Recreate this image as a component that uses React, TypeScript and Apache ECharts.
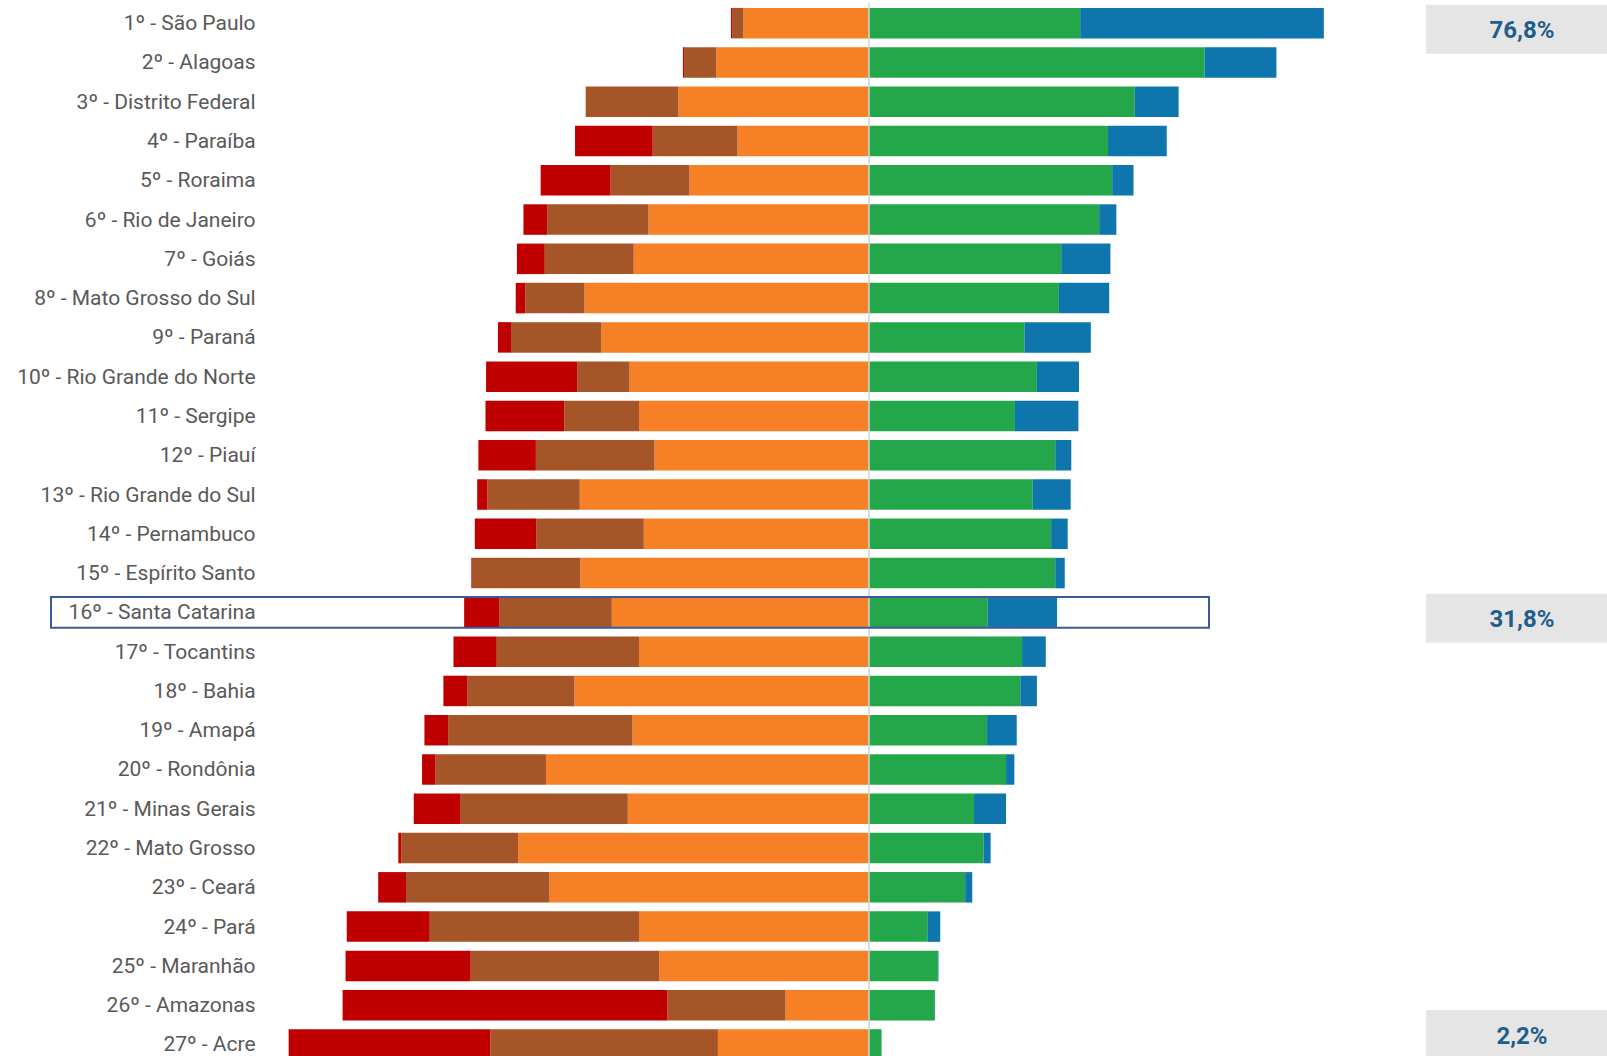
import React, { useEffect, useRef } from "react";
import * as echarts from "echarts";

const states = [
  "1º - São Paulo",
  "2º - Alagoas",
  "3º - Distrito Federal",
  "4º - Paraíba",
  "5º - Roraima",
  "6º - Rio de Janeiro",
  "7º - Goiás",
  "8º - Mato Grosso do Sul",
  "9º - Paraná",
  "10º - Rio Grande do Norte",
  "11º - Sergipe",
  "12º - Piauí",
  "13º - Rio Grande do Sul",
  "14º - Pernambuco",
  "15º - Espírito Santo",
  "16º - Santa Catarina",
  "17º - Tocantins",
  "18º - Bahia",
  "19º - Amapá",
  "20º - Rondônia",
  "21º - Minas Gerais",
  "22º - Mato Grosso",
  "23º - Ceará",
  "24º - Pará",
  "25º - Maranhão",
  "26º - Amazonas",
  "27º - Acre",
];

// left side (drawn as negative), from outermost to the centre
const red = [0.2, 0.2, 0, 13.1, 11.8, 4.0, 4.7, 1.6, 2.2, 15.4, 13.3, 9.7, 1.7, 10.4, 0.1, 5.9, 7.3, 4.0, 4.0, 2.2, 7.8, 0.5, 4.7, 14.0, 21.1, 54.8, 34.0];
const brown = [1.9, 5.4, 15.6, 14.3, 13.3, 17.1, 15.0, 10.0, 15.2, 8.8, 12.6, 20.0, 15.6, 18.1, 18.3, 19.0, 24.0, 18.1, 31.1, 18.7, 28.3, 19.7, 24.2, 35.3, 31.8, 19.9, 38.4];
const orange = [21.1, 25.7, 32.1, 22.1, 30.2, 37.1, 39.6, 47.9, 45.1, 40.3, 38.7, 36.1, 48.7, 37.9, 48.6, 43.3, 38.7, 49.6, 39.8, 54.4, 40.6, 59.1, 53.8, 38.7, 35.3, 14.0, 25.4];
// right side, from the centre outwards
const green = [35.7, 56.7, 44.9, 40.4, 41.1, 38.9, 32.5, 32.1, 26.3, 28.4, 24.7, 31.5, 27.7, 30.8, 31.5, 20.1, 25.9, 25.6, 20.0, 23.2, 17.8, 19.4, 16.3, 10.0, 11.7, 11.2, 2.2];
const blue = [41.1, 12.1, 7.4, 9.9, 3.6, 2.9, 8.3, 8.5, 11.2, 7.1, 10.7, 2.7, 6.4, 2.8, 1.6, 11.7, 4.0, 2.8, 5.0, 1.4, 5.4, 1.2, 1.2, 2.1, 0.1, 0, 0];

const boxedStates = ["1º - São Paulo", "16º - Santa Catarina", "27º - Acre"];
const outlinedState = "16º - Santa Catarina";

const C_RED = "#C00000";
const C_BROWN = "#A55527";
const C_ORANGE = "#F58025";
const C_GREEN = "#24A64A";
const C_BLUE = "#0F76AD";

function fmt(v: number) {
  return v.toFixed(1).replace(".", ",") + "%";
}

export default function App() {
  const ref = useRef<HTMLDivElement>(null);

  useEffect(() => {
    const chart = echarts.init(ref.current!, null, { renderer: "svg" });

    const neg = (arr: number[]) => arr.map((v) => -v);
    const barCommon = {
      type: "bar",
      stack: "total",
      barWidth: 30.5,
      silent: true,
    };

    const boxData = boxedStates.map((s) => {
      const i = states.indexOf(s);
      return [Math.round((green[i] + blue[i]) * 10) / 10, i];
    });
    const outlineIdx = states.indexOf(outlinedState);

    const option: any = {
      animation: false,
      backgroundColor: "#ffffff",
      grid: {
        left: 275.6,
        width: 1185.8,
        top: 3.5,
        height: 1060.6,
        containLabel: false,
      },
      xAxis: {
        type: "value",
        min: -100,
        max: 100,
        show: false,
        splitLine: { show: false },
      },
      yAxis: {
        type: "category",
        inverse: true,
        data: states,
        z: 5,
        axisTick: { show: false },
        axisLine: {
          show: true,
          onZero: true,
          lineStyle: { color: "#D2D2D2", width: 1.5 },
        },
        axisLabel: {
          margin: 20,
          fontFamily: "Roboto",
          fontSize: 21,
          color: "#595959",
        },
      },
      series: [
        { ...barCommon, name: "orange", data: neg(orange), itemStyle: { color: C_ORANGE } },
        { ...barCommon, name: "brown", data: neg(brown), itemStyle: { color: C_BROWN } },
        { ...barCommon, name: "red", data: neg(red), itemStyle: { color: C_RED } },
        { ...barCommon, name: "green", data: green, itemStyle: { color: C_GREEN } },
        { ...barCommon, name: "blue", data: blue, itemStyle: { color: C_BLUE } },
        {
          type: "custom",
          name: "outline",
          z: 10,
          clip: false,
          silent: true,
          data: [[0, outlineIdx]],
          renderItem: (params: any, api: any) => {
            const c = api.coord([0, api.value(1)]);
            return {
              type: "rect",
              shape: { x: 51, y: c[1] - 15.3, width: 1158, height: 30.6 },
              style: { fill: "none", stroke: "#3A5A98", lineWidth: 2 },
            };
          },
        },
        {
          type: "custom",
          name: "boxes",
          z: 10,
          clip: false,
          silent: true,
          data: boxData,
          renderItem: (params: any, api: any) => {
            const c = api.coord([0, api.value(1)]);
            const h = 49;
            let top = c[1] + 6 - h / 2;
            top = Math.max(1, Math.min(1010, top));
            return {
              type: "group",
              children: [
                {
                  type: "rect",
                  shape: { x: 1426, y: top, width: 192, height: h },
                  style: { fill: "#E5E5E5" },
                },
                {
                  type: "text",
                  x: 1522,
                  y: top + h / 2 + 1,
                  style: {
                    text: fmt(api.value(0)),
                    fill: "#1F5E8C",
                    font: "bold 24px Roboto",
                    align: "center",
                    verticalAlign: "middle",
                  },
                },
              ],
            };
          },
        },
      ],
    };

    chart.setOption(option);
    return () => chart.dispose();
  }, []);

  return (
    <div
      ref={ref}
      style={{ position: "fixed", left: 0, top: 0, width: 1607, height: 1072 }}
    />
  );
}
